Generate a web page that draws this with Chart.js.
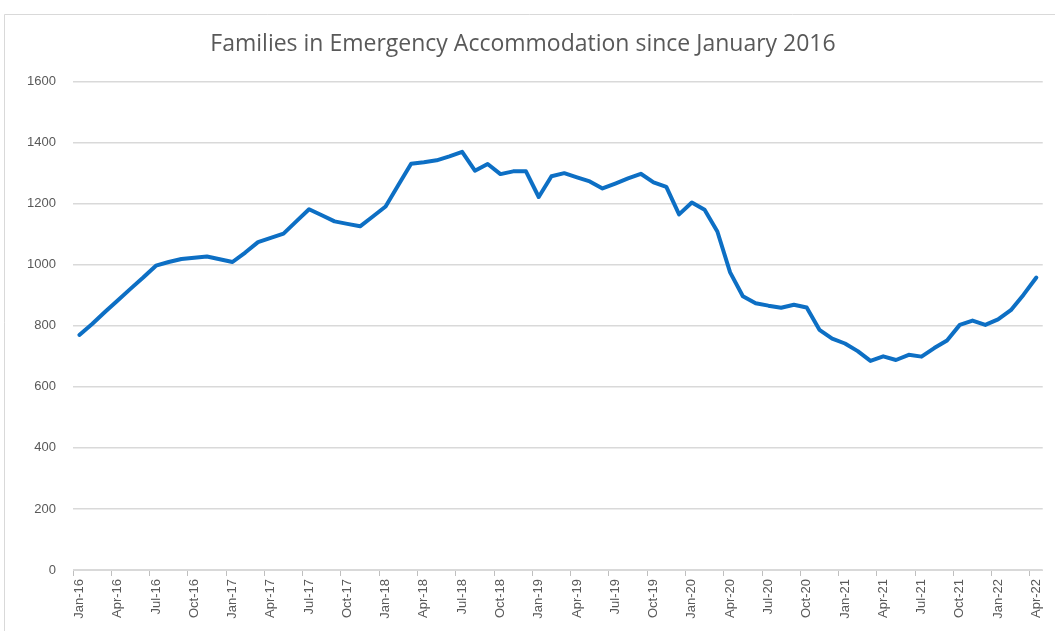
<!DOCTYPE html>
<html>
<head>
<meta charset="utf-8">
<script src="https://cdn.jsdelivr.net/npm/chart.js@4.4.1/dist/chart.umd.min.js"></script>
<style>
    html, body { margin: 0; padding: 0; background: #fff; }
    #wrap { position: relative; width: 1055px; height: 631px; }
</style>
</head>
<body>
<div id="wrap"><canvas id="chart" width="1055" height="631"></canvas></div>
<script>
// data ------
var months = [
    'Jan-16', 'Feb-16', 'Mar-16', 'Apr-16', 'May-16', 'Jun-16', 'Jul-16', 'Aug-16', 'Sep-16', 'Oct-16', 'Nov-16', 'Dec-16',
    'Jan-17', 'Feb-17', 'Mar-17', 'Apr-17', 'May-17', 'Jun-17', 'Jul-17', 'Aug-17', 'Sep-17', 'Oct-17', 'Nov-17', 'Dec-17',
    'Jan-18', 'Feb-18', 'Mar-18', 'Apr-18', 'May-18', 'Jun-18', 'Jul-18', 'Aug-18', 'Sep-18', 'Oct-18', 'Nov-18', 'Dec-18',
    'Jan-19', 'Feb-19', 'Mar-19', 'Apr-19', 'May-19', 'Jun-19', 'Jul-19', 'Aug-19', 'Sep-19', 'Oct-19', 'Nov-19', 'Dec-19',
    'Jan-20', 'Feb-20', 'Mar-20', 'Apr-20', 'May-20', 'Jun-20', 'Jul-20', 'Aug-20', 'Sep-20', 'Oct-20', 'Nov-20', 'Dec-20',
    'Jan-21', 'Feb-21', 'Mar-21', 'Apr-21', 'May-21', 'Jun-21', 'Jul-21', 'Aug-21', 'Sep-21', 'Oct-21', 'Nov-21', 'Dec-21',
    'Jan-22', 'Feb-22', 'Mar-22', 'Apr-22'
];

var families = [
    770, 806, 845, 883, 921, 958, 997, 1009, 1019, 1023, 1027, 1018,
    1009, 1040, 1074, 1088, 1102, 1142, 1182, 1162, 1142, 1134, 1126, 1158,
    1191, 1261, 1331, 1336, 1342, 1355, 1370, 1308, 1330, 1297, 1306, 1306,
    1222, 1290, 1300, 1286, 1273, 1250, 1266, 1283, 1298, 1270, 1255, 1165,
    1204, 1180, 1109, 975, 897, 874, 866, 859, 869, 860, 787, 758,
    742, 717, 685, 700, 688, 705, 699, 727, 752, 803, 817, 803,
    821, 851, 902, 958
];

var yTicks = [0, 200, 400, 600, 800, 1000, 1200, 1400, 1600];

var titleText = 'Families in Emergency Accommodation since January 2016';

// frame round the chart, like the excel chart box
var framePlugin = {
    id: 'frame',
    beforeDraw: function (chart) {
        var ctx = chart.ctx;
        ctx.save();
        ctx.fillStyle = '#ffffff';
        ctx.fillRect(0, 0, chart.width, chart.height);
        ctx.strokeStyle = '#d9d9d9';
        ctx.lineWidth = 1;
        ctx.beginPath();
        ctx.moveTo(4.5, chart.height);
        ctx.lineTo(4.5, 14.5);
        ctx.lineTo(chart.width, 14.5);
        ctx.stroke();
        ctx.restore();
    }
};

//   Chart  ------
var options = {
    type: 'line',
    data: {
        labels: months,
        datasets: [{
            data: families,
            borderColor: '#0d6fc4',
            borderWidth: 4,
            pointRadius: 0,
            tension: 0,
            borderJoinStyle: 'round',
            borderCapStyle: 'round',
            fill: false
        }]
    },
    options: {
        responsive: false,
        animation: false,
        layout: {
            padding: { left: 0, right: 9, top: 0, bottom: 0 }
        },
        plugins: {
            legend: { display: false },
            tooltip: { enabled: false },
            title: {
                display: true,
                text: titleText,
                color: '#595959',
                font: { family: 'Open Sans', size: 23, weight: 'normal', lineHeight: 1.2 },
                padding: { top: 31, bottom: 23 }
            }
        },
        scales: {
            x: {
                offset: true,
                grid: {
                    offset: true,
                    drawOnChartArea: false,
                    drawTicks: true,
                    tickLength: 6,
                    color: function (c) {
                        return c.index % 3 === 0 ? '#bfbfbf' : 'rgba(0,0,0,0)';
                    }
                },
                border: { display: true, color: '#d9d9d9', width: 1 },
                ticks: {
                    autoSkip: false,
                    minRotation: 90,
                    maxRotation: 90,
                    padding: 3,
                    color: '#595959',
                    font: { family: 'Liberation Sans', size: 13 },
                    callback: function (val, i) {
                        return i % 3 === 0 ? months[i] : '';
                    }
                },
                afterFit: function (scale) {
                    scale.height = 61;
                }
            },
            y: {
                min: 0,
                max: 1600,
                afterBuildTicks: function (scale) {
                    scale.ticks = yTicks.map(function (v) { return { value: v }; });
                },
                grid: {
                    color: '#d9d9d9',
                    lineWidth: 1.5,
                    drawTicks: false
                },
                border: { display: false },
                ticks: {
                    padding: 17,
                    color: '#595959',
                    font: { family: 'Liberation Sans', size: 13 },
                    callback: function (val) {
                        return String(val);
                    }
                },
                afterFit: function (scale) {
                    scale.width = 73;
                }
            }
        }
    },
    plugins: [framePlugin]
};

var chart = new Chart(document.getElementById('chart'), options);
</script>
</body>
</html>
